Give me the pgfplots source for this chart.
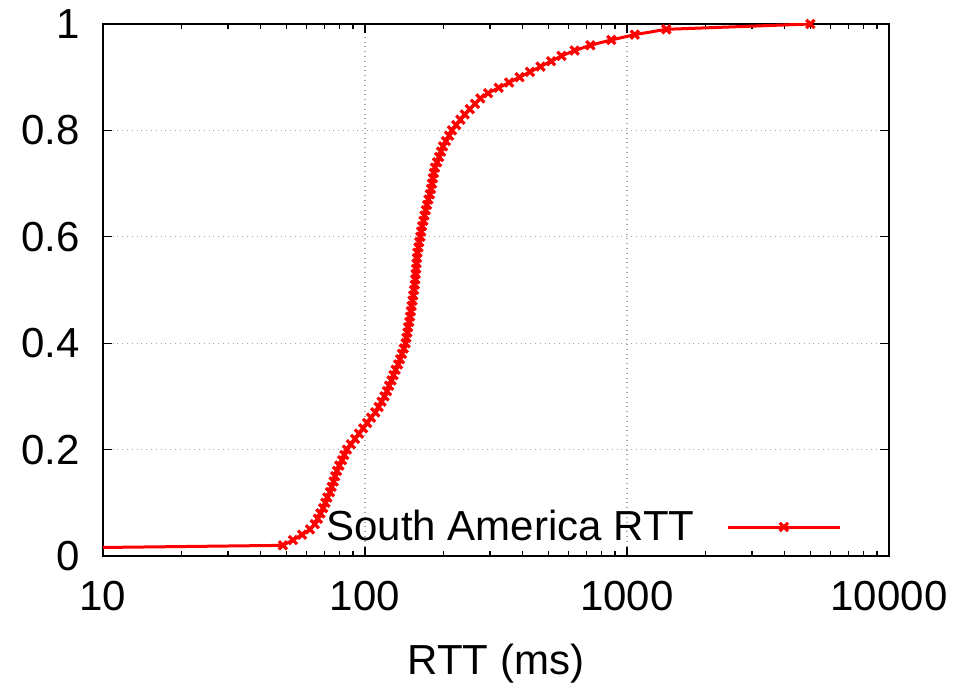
\documentclass[border=0pt]{standalone}
\usepackage{pgfplots}
\pgfplotsset{compat=1.18}
\usepackage{fontspec}
\setmainfont{Liberation Sans}
\newcommand{\bigf}{\fontsize{21}{25}\selectfont}
\begin{document}
\begin{tikzpicture}
\begin{axis}[
  at={(0,0)}, anchor=south west,
  scale only axis,
  width=393pt, height=266pt,
  xmode=log, log basis x=10,
  xmin=10, xmax=10000, ymin=0, ymax=1,
  xtick={10,100,1000,10000},
  xticklabels={10,100,1000,10000},
  minor xtick={20,30,40,50,60,70,80,90,200,300,400,500,600,700,800,900,2000,3000,4000,5000,6000,7000,8000,9000},
  ytick={0,0.2,0.4,0.6,0.8,1},
  yticklabels={0,0.2,0.4,0.6,0.8,1},
  tick align=inside,
  major tick length=4.5pt, minor tick length=2.5pt,
  every tick/.style={black, line width=0.6pt},
  axis line style={line width=0.8pt},
  grid=major,
  major grid style={dotted, gray!70, line width=0.6pt},
  tick label style={font=\bigf},
  /pgf/number format/assume math mode=true,
  yticklabel style={xshift=-8pt},
  xticklabel style={yshift=-9pt},
  xlabel={RTT (ms)},
  xlabel style={font=\bigf, at={(axis description cs:0.5,0)}, anchor=base, yshift=-59.5pt},
  legend plot pos=right,
  legend cell align=right,
  legend style={draw=none, fill=none, font=\bigf, at={(axis description cs:0.94,0.0545)}, anchor=east, inner sep=0pt},
  legend image code/.code={\path (0pt,0pt); \draw[mark repeat=2,mark phase=2] plot coordinates {(14pt,0pt) (42pt,0pt) (70pt,0pt)};},
]
\addplot[red, line width=1.5pt, mark=x, mark size=2.9pt, mark repeat=1, mark phase=2, mark options={line width=1.6pt}] coordinates {
(10,0.016)
(48.6,0.02) (53.1,0.03) (57.5,0.04) (61.7,0.05) (64.3,0.06) (66.1,0.07) (67.6,0.08) (69.2,0.09) (70.6,0.10)
(71.9,0.11) (73.5,0.12) (74.6,0.13) (75.9,0.14) (76.9,0.15) (78.2,0.16) (79.8,0.17) (81.7,0.18) (83.4,0.19) (85.3,0.20)
(88.3,0.21) (91.6,0.22) (94.8,0.23) (98.4,0.24) (101.9,0.25) (105.4,0.26) (109.4,0.27) (112.7,0.28) (115.6,0.29) (118.6,0.30)
(121.3,0.31) (123.6,0.32) (126.2,0.33) (128.5,0.34) (130.9,0.35) (133.7,0.36) (136.1,0.37) (138.4,0.38) (140.6,0.39) (142.9,0.40)
(143.9,0.41) (145.2,0.42) (146.2,0.43) (147.6,0.44) (148.6,0.45) (149.6,0.46) (150.7,0.47) (151.7,0.48) (152.8,0.49) (153.8,0.50)
(154.9,0.51) (155.6,0.52) (156.0,0.53) (156.7,0.54) (157.4,0.55) (157.8,0.56) (158.5,0.57) (160.0,0.58) (161.1,0.59) (162.6,0.60)
(163.7,0.61) (165.2,0.62) (167.1,0.63) (168.7,0.64) (170.6,0.65) (172.6,0.66) (174.6,0.67) (177.0,0.68) (178.6,0.69) (180.3,0.70)
(181.6,0.71) (183.2,0.72) (184.9,0.73) (188.4,0.74) (191.9,0.75) (195.0,0.76) (198.6,0.77) (203.7,0.78) (209.4,0.79) (214.8,0.80)
(222.8,0.81) (231.2,0.82) (240.4,0.83) (251.2,0.84) (263.0,0.85) (275.4,0.86) (295.1,0.87) (323.6,0.88) (354.8,0.89) (389.0,0.90)
(426.6,0.91) (467.7,0.92) (512.9,0.93) (562.3,0.94) (631.0,0.95) (724.4,0.96) (871.0,0.97) (1071.5,0.98) (1412.5,0.99) (5012,1.00)
};
\addlegendentry{South America RTT}
\end{axis}
\pgfresetboundingbox
\path[use as bounding box] (-51.5pt,-64pt) rectangle (435.5pt,278pt);
\end{tikzpicture}
\end{document}
